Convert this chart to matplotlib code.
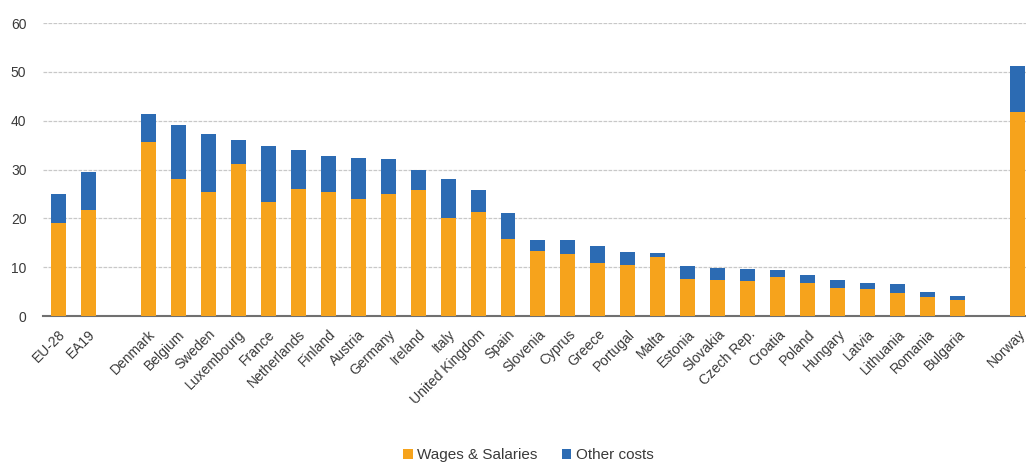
import numpy as np
import matplotlib.pyplot as plt

plt.rcParams['font.family'] = ['Liberation Sans', 'DejaVu Sans']

# Hourly labour costs (EUR), split into wages & salaries and other costs
countries = ['EU-28', 'EA19',
             'Denmark', 'Belgium', 'Sweden', 'Luxembourg', 'France', 'Netherlands',
             'Finland', 'Austria', 'Germany', 'Ireland', 'Italy', 'United Kingdom',
             'Spain', 'Slovenia', 'Cyprus', 'Greece', 'Portugal', 'Malta', 'Estonia',
             'Slovakia', 'Czech Rep.', 'Croatia', 'Poland', 'Hungary', 'Latvia',
             'Lithuania', 'Romania', 'Bulgaria',
             'Norway']
wages = [19.0, 21.7,
         35.6, 28.1, 25.3, 31.2, 23.4, 26.0, 25.5, 24.0, 25.0, 25.8, 20.1, 21.3,
         15.8, 13.3, 12.8, 10.9, 10.5, 12.0, 7.6, 7.4, 7.2, 8.0, 6.8, 5.7, 5.5,
         4.8, 3.9, 3.3,
         41.8]
totals = [25.0, 29.5,
          41.4, 39.1, 37.3, 36.1, 34.9, 34.0, 32.8, 32.4, 32.1, 30.0, 28.1, 25.8,
          21.2, 15.6, 15.6, 14.4, 13.2, 13.0, 10.2, 9.9, 9.7, 9.4, 8.5, 7.4, 6.8,
          6.6, 4.9, 4.1,
          51.2]
other = [t - w for t, w in zip(totals, wages)]

# aggregates, gap, member states, gap, Norway
pos = np.array([0, 1] + list(range(3, 31)) + [32])

orange = '#F6A31C'
blue = '#2C6BB3'

fig = plt.figure(figsize=(10.26, 4.62), dpi=100)
ax = fig.add_axes([0.042, 0.316, 0.958, 0.634])

ax.bar(pos, wages, width=0.5, color=orange, label='Wages & Salaries', zorder=3)
ax.bar(pos, other, width=0.5, bottom=wages, color=blue, label='Other costs', zorder=3)

ax.set_ylim(0, 60)
ax.set_xlim(-0.5, 32.27)
ax.set_yticks(range(0, 61, 10))
ax.yaxis.grid(True, color='#c8c8c8', linestyle=(0, (3, 1)), linewidth=0.9, zorder=0)

for side in ['top', 'right', 'left']:
    ax.spines[side].set_visible(False)
ax.spines['bottom'].set_color('#707070')
ax.spines['bottom'].set_linewidth(1.5)

ax.set_xticks(pos)
ax.set_xticklabels(countries, rotation=45, ha='right', rotation_mode='anchor')
ax.tick_params(axis='both', length=0, labelsize=10, labelcolor='#3a3a3a')
ax.tick_params(axis='x', pad=8)
ax.tick_params(axis='y', pad=12)

fig.legend(loc='lower center', bbox_to_anchor=(0.515, -0.03), ncol=2, frameon=False,
           fontsize=11, handlelength=0.6, handleheight=0.6, handletextpad=0.3,
           columnspacing=1.6, labelcolor='#3a3a3a')

fig.savefig('out.png', dpi=100)
